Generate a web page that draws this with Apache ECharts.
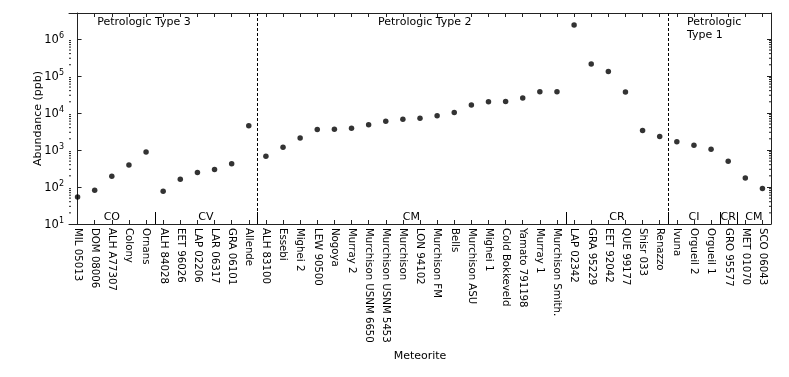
<!DOCTYPE html>
<html>
<head>
<meta charset="utf-8">
<script src="https://cdn.jsdelivr.net/npm/echarts@6/dist/echarts.min.js"></script>
<style>
  html, body { margin: 0; padding: 0; background: #fff; }
  #chart { width: 789px; height: 377px; }
</style>
</head>
<body>
<div id="chart"></div>
<script>
// meteorites, in plot order
var meteorites = [
  'MIL 05013', 'DOM 08006', 'ALH A77307', 'Colony', 'Ornans',
  'ALH 84028', 'EET 96026', 'LAP 02206', 'LAR 06317', 'GRA 06101', 'Allende',
  'ALH 83100', 'Essebi', 'Mighei 2', 'LEW 90500', 'Nogoya', 'Murray 2',
  'Murchison USNM 6650', 'Murchison USNM 5453', 'Murchison', 'LON 94102',
  'Murchison FM', 'Bells', 'Murchison ASU', 'Mighei 1', 'Cold Bokkeveld',
  'Yamato 791198', 'Murray 1', 'Murchison Smith.',
  'LAP 02342', 'GRA 95229', 'EET 92042', 'QUE 99177', 'Shisr 033', 'Renazzo',
  'Ivuna', 'Orgueil 2', 'Orgueil 1', 'GRO 95577', 'MET 01070', 'SCO 06043'
];
// abundance (ppb)
var abundance = [
  54, 82, 195, 393, 880,
  77, 162, 245, 295, 425, 4500,
  676, 1180, 2090, 3580, 3630, 3870,
  4780, 5980, 6760, 7200,
  8330, 10200, 16500, 19900, 20400,
  25400, 37600, 37600,
  2380000, 209000, 132000, 36900, 3370, 2320,
  1670, 1350, 1040, 494, 176, 91
];
// chondrite groups: name, first index, last index
var groupNames = ['CO', 'CV', 'CM', 'CR', 'CI', 'CR', 'CM'];
var groupStart = [0, 5, 11, 29, 35, 38, 39];
var groupEnd   = [4, 10, 28, 34, 37, 38, 40];
// petrologic types: label, anchor (category units)
var typeNames  = ['Petrologic Type 3', 'Petrologic Type 2', 'Petrologic\nType 1'];
var typeAnchor = [1.15, 17.55, 35.6];
// petrologic type boundaries (between categories)
var typeBounds = [10.5, 34.5];

var font = 'DejaVu Sans';
var lineColor = '#222';
var chart = echarts.init(document.getElementById('chart'), null, { renderer: 'canvas' });

// minor log ticks (2..9 x 10^n) up to 10^6
var minorTicks = [];
for (var e = 1; e <= 5; e++) {
  for (var k = 2; k <= 9; k++) {
    minorTicks.push([0, k * Math.pow(10, e)]);
  }
}

function catAxis(pos, showLabel) {
  return {
    type: 'category',
    position: pos,
    data: meteorites,
    boundaryGap: true,
    axisLine: { show: true, lineStyle: { color: lineColor, width: 1 } },
    axisTick: { show: true, inside: true, alignWithLabel: true, length: 4, lineStyle: { color: lineColor } },
    axisLabel: {
      show: showLabel, rotate: -90, interval: 0, margin: 4,
      fontFamily: font, fontSize: 10.2, color: '#000'
    },
    splitLine: { show: false }
  };
}

function logAxis(pos, showLabel) {
  return {
    type: 'log',
    position: pos,
    min: 10,
    max: 5e6,
    logBase: 10,
    splitNumber: 6,
    name: showLabel ? 'Abundance (ppb)' : '',
    nameLocation: 'middle',
    nameGap: 25,
    nameMoveOverlap: false,
    nameTextStyle: { fontFamily: font, fontSize: 11, color: '#000' },
    axisLine: { show: true, lineStyle: { color: lineColor, width: 1 } },
    axisTick: { show: true, inside: true, length: 4, lineStyle: { color: lineColor } },
    axisLabel: {
      show: showLabel, margin: 5,
      formatter: function (val) {
        var n = Math.log10(val);
        if (Math.abs(n - Math.round(n)) > 1e-6) return '';
        return '{b|10}{s|' + Math.round(n) + '}';
      },
      rich: {
        b: { fontFamily: font, fontSize: 11.5, color: '#000', verticalAlign: 'bottom' },
        s: { fontFamily: font, fontSize: 8, color: '#000', verticalAlign: 'bottom', padding: [0, 0, 6, 0] }
      }
    },
    splitLine: { show: false }
  };
}

var option = {
  animation: false,
  backgroundColor: '#fff',
  grid: { left: 69, right: 18, top: 13, bottom: 153, containLabel: false },
  xAxis: [
    Object.assign(catAxis('bottom', true), {
      name: 'Meteorite', nameLocation: 'middle', nameGap: 124,
      nameTextStyle: { fontFamily: font, fontSize: 11, color: '#000' }
    }),
    catAxis('top', false),
    { type: 'value', min: -0.5, max: 40.5, show: false }
  ],
  yAxis: [logAxis('left', true), logAxis('right', false)],
  series: [
    {
      type: 'scatter',
      xAxisIndex: 0, yAxisIndex: 0,
      data: abundance,
      symbol: 'circle',
      symbolSize: 5.5,
      itemStyle: { color: '#000' },
      z: 5
    },
    {
      // minor log ticks on both sides
      type: 'custom',
      xAxisIndex: 2, yAxisIndex: 0,
      data: minorTicks,
      silent: true,
      renderItem: function (params, api) {
        var cs = params.coordSys;
        var y = api.coord([0, api.value(1)])[1];
        return {
          type: 'group',
          children: [
            { type: 'line', shape: { x1: cs.x, y1: y, x2: cs.x + 2, y2: y }, style: { stroke: lineColor, lineWidth: 1 } },
            { type: 'line', shape: { x1: cs.x + cs.width - 2, y1: y, x2: cs.x + cs.width, y2: y }, style: { stroke: lineColor, lineWidth: 1 } }
          ]
        };
      }
    },
    {
      // dashed boundaries between petrologic types
      type: 'custom',
      xAxisIndex: 2, yAxisIndex: 0,
      data: typeBounds.map(function (b) { return [b, 10]; }),
      silent: true,
      renderItem: function (params, api) {
        var cs = params.coordSys;
        var x = Math.round(api.coord([api.value(0), 10])[0]) + 0.5;
        return {
          type: 'line',
          shape: { x1: x, y1: cs.y, x2: x, y2: cs.y + cs.height },
          style: { stroke: '#000', lineWidth: 1, lineDash: [3, 2] }
        };
      }
    },
    {
      // chondrite group labels and separators
      type: 'custom',
      xAxisIndex: 2, yAxisIndex: 0,
      data: groupNames.map(function (g, i) { return [groupStart[i], groupEnd[i]]; }),
      silent: true,
      renderItem: function (params, api) {
        var cs = params.coordSys;
        var i = params.dataIndex;
        var x0 = api.coord([api.value(0) - 0.5, 10])[0];
        var x1 = api.coord([api.value(1) + 0.5, 10])[0];
        var yb = cs.y + cs.height;
        var children = [{
          type: 'text',
          style: {
            x: (x0 + x1) / 2, y: yb - 7, text: groupNames[i],
            align: 'center', verticalAlign: 'middle',
            font: '11px "DejaVu Sans"', fill: '#000'
          }
        }];
        if (i < groupNames.length - 1) {
          var xs = Math.round(x1) + 0.5;
          children.push({
            type: 'line',
            shape: { x1: xs, y1: yb - 12, x2: xs, y2: yb },
            style: { stroke: '#000', lineWidth: 1 }
          });
        }
        return { type: 'group', children: children };
      }
    },
    {
      // petrologic type labels
      type: 'custom',
      xAxisIndex: 2, yAxisIndex: 0,
      data: typeAnchor.map(function (a) { return [a, 10]; }),
      silent: true,
      renderItem: function (params, api) {
        var cs = params.coordSys;
        var x = api.coord([api.value(0), 10])[0];
        return {
          type: 'text',
          style: {
            x: x, y: cs.y + 3, text: typeNames[params.dataIndex],
            align: 'left', verticalAlign: 'top', lineHeight: 13,
            font: '11px "DejaVu Sans"', fill: '#000'
          }
        };
      }
    }
  ]
};

chart.setOption(option);
</script>
</body>
</html>
